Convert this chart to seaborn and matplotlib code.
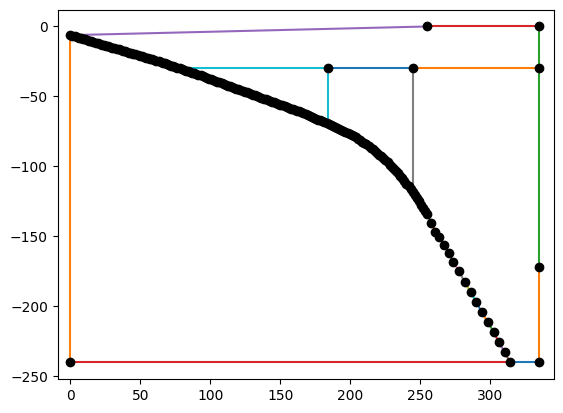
import matplotlib
matplotlib.use("Agg")
import matplotlib.pyplot as plt
import seaborn as sns
import pandas as pd

# black path of points (x, y), dense at the start, sparse at the end
curve_x = [
    0, 1.5, 3, 4.5, 6, 7.5, 9, 10.5, 12, 13.5, 15, 16.5, 18, 19.5, 21, 22.5, 24, 25.5, 27,
    28.5, 30, 31.5, 33, 34.5, 36, 37.5, 39, 40.5, 42, 43.5, 45, 46.5, 48, 49.5, 51,
    52.5, 54, 55.5, 57, 58.5, 60, 61.5, 63,
    64.5, 66, 67.5, 69, 70.5, 72, 73.5, 75, 76.5, 78, 79.5, 81, 82.5, 84, 85.5, 87, 88.5, 90,
    91.5, 93, 94.5, 96, 97.5, 99, 100.5, 102, 103.5, 105, 106.5, 108, 109.5, 111,
    112.5, 114, 115.5, 117, 118.5, 120, 121.5, 123, 124.5, 126, 127.5, 129, 130.5, 132,
    133.5, 135, 136.5, 138, 139.5, 141, 142.5, 144, 145.5, 147, 148.5, 150, 151.5, 153,
    154.5, 156, 157.5, 159, 160.5, 162, 163.5, 165, 166.5, 168, 169.5, 171, 172.5, 174,
    175.5, 177, 178.5, 180, 181.5, 183, 184.5, 186, 187.5, 189, 190.5, 192, 193.5, 195,
    196.5, 198, 199.5, 201, 202.5, 204, 205.5, 207, 208.5, 210, 211.5, 213, 214.5, 216,
    217.5, 219, 220.5, 222, 223.5, 225, 226.5, 228, 229.5, 231, 232.5, 234, 235.5, 237,
    238.5, 240, 241.5, 243, 244.5, 246, 247.5, 249, 250.5, 252, 253.5, 255,
    257.6, 260.7, 263.6, 267.1, 270.2, 273.6, 277.4, 281.6, 285.9,
    289.8, 293.8, 298.1, 302.4, 305.9, 310.2, 314,
]
curve_y = [
    -6.2, -6.6, -7.1, -7.5, -8.0, -8.4, -8.9, -9.3, -9.8, -10.2, -10.6, -11.1, -11.5,
    -12.0, -12.4, -12.9, -13.3, -13.7, -14.2,
    -14.6, -15.1, -15.5, -16.0, -16.4, -16.9, -17.3, -17.8, -18.2, -18.6, -19.1, -19.5,
    -20.0, -20.4, -20.8, -21.3, -21.7, -22.2, -22.6, -23.1, -23.5, -24.0, -24.4, -24.9,
    -25.4, -25.9, -26.4, -26.9, -27.4, -27.9, -28.4, -29.0, -29.5, -30.0, -30.5, -31.0,
    -31.5, -32.0, -32.5, -33.0, -33.5, -34.0,
    -34.5, -35.0, -35.6, -36.1, -36.7, -37.2, -37.8, -38.3, -38.9, -39.4, -40.0, -40.5,
    -41.1, -41.6, -42.2, -42.7, -43.3, -43.8, -44.4, -44.9, -45.5, -46.0, -46.6, -47.1,
    -47.7, -48.2, -48.8, -49.3, -49.9, -50.4, -51.0, -51.5, -52.1, -52.6, -53.2, -53.7,
    -54.3, -54.8, -55.3, -55.8, -56.4, -56.9, -57.5, -58.0, -58.6, -59.1, -59.7, -60.2,
    -60.7, -61.3, -61.9, -62.6, -63.2, -63.9, -64.5, -65.2, -65.8, -66.5, -67.1, -67.8,
    -68.4, -69.1, -69.8, -70.5, -71.1, -71.8, -72.5, -73.2, -73.9, -74.6, -75.3, -76.0,
    -76.8, -77.6, -78.4, -79.3, -80.2, -81.2, -82.2, -83.2, -84.3, -85.4, -86.5, -87.7,
    -88.9, -90.2, -91.5, -92.8, -94.2, -95.6, -97.1, -98.6, -100.1, -101.7, -103.3, -104.9,
    -106.7, -108.5, -110.4, -112.3, -114.3, -116.3, -118.4, -120.5, -122.7, -124.9,
    -127.2, -129.5, -131.8, -134.2,
    -140.1, -146.5, -150.1, -156.0, -162.0, -168.4, -174.6, -182.4, -189.8,
    -196.7, -204.0, -211.2, -218.3, -225.5, -232.4, -240.0,
]

# frame segments: x list, y list, colour
seg_x = [
    [0, 0], [0, 314], [314, 335], [335, 335], [335, 335],
    [0, 255], [255, 335], [245, 335], [184, 245],
    [78, 184, 184], [245, 245],
]
seg_y = [
    [-6.2, -240], [-240, -240], [-240, -240], [-240, -172], [-172, 0],
    [-6.2, 0], [0, 0], [-30, -30], [-30, -30],
    [-30, -30, -69], [-30, -119],
]
seg_colors = [
    "tab:orange", "tab:red", "tab:blue", "tab:orange", "tab:green",
    "tab:purple", "tab:red", "tab:orange", "tab:blue",
    "tab:cyan", "tab:gray",
]

# extra marked points
node_x = [0, 255, 335, 335, 245, 184, 335, 335]
node_y = [-240, 0, 0, -30, -30, -30, -172, -240]

fig, ax = plt.subplots(figsize=(6.4, 4.8), dpi=100)

for xs, ys, c in zip(seg_x, seg_y, seg_colors):
    ax.plot(xs, ys, color=c, linewidth=1.5, zorder=1)

# consecutive path segments, each with the next cycle colour
palette = sns.color_palette("tab10")
for i in range(len(curve_x) - 1):
    ax.plot(curve_x[i:i + 2], curve_y[i:i + 2],
            color=palette[i % 10], linewidth=1.5, zorder=1)

points = pd.DataFrame({"x": curve_x + node_x, "y": curve_y + node_y})
sns.scatterplot(data=points, x="x", y="y", ax=ax, color="black",
                s=36, edgecolor="black", linewidth=1, zorder=3)

ax.set_xlim(-9, 345.2)
ax.set_ylim(-252, 12)
ax.set_xlabel("")
ax.set_ylabel("")

fig.savefig("out.png", bbox_inches="tight")
